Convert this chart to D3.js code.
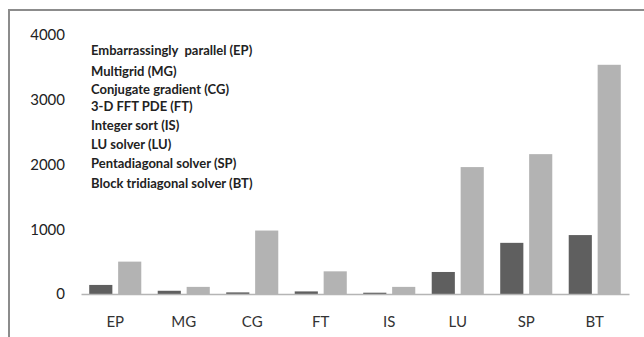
<!DOCTYPE html>
<html><head><meta charset="utf-8">
<script src="https://cdn.jsdelivr.net/npm/d3@7/dist/d3.min.js"></script>
<style>html,body{margin:0;padding:0;background:#fff;}svg{display:block;}</style>
</head><body>
<script>
const categories = ["EP","MG","CG","FT","IS","LU","SP","BT"];
const seriesDark = [140, 50, 25, 40, 20, 340, 790, 910];
const seriesLight = [500, 110, 980, 350, 110, 1960, 2160, 3540];
const yTicks = [0, 1000, 2000, 3000, 4000];
const legendLines = [
  "Embarrassingly  parallel (EP)",
  "Multigrid (MG)",
  "Conjugate gradient (CG)",
  "3-D FFT PDE (FT)",
  "Integer sort (IS)",
  "LU solver (LU)",
  "Pentadiagonal solver (SP)",
  "Block tridiagonal solver (BT)"
];
const legendY = [50, 71, 89, 106, 125, 144, 163, 183];

const W = 644, H = 337;
const svg = d3.select("body").append("svg").attr("width", W).attr("height", H);

// frame border
svg.append("rect").attr("x", 9).attr("y", 10).attr("width", W + 20).attr("height", H + 20)
  .attr("fill", "none").attr("stroke", "#8c8c8c").attr("stroke-width", 2);

const x = d3.scaleBand().domain(categories).range([81, 629]).paddingInner(0.24).paddingOuter(0.12);
const xs = d3.scaleBand().domain(["dark","light"]).range([0, x.bandwidth()]).paddingInner(0.2);
const y = d3.scaleLinear().domain([0, 4000]).range([294, 35]);

// y labels
svg.append("g").selectAll("text").data(yTicks).join("text")
  .attr("x", 65).attr("y", d => y(d)).attr("dy", "0.36em")
  .attr("text-anchor", "end").attr("font-family", "Lato").attr("font-size", 15)
  .attr("fill", "#222").text(d => d);

// bars
const data = categories.map((c, i) => ({c, dark: seriesDark[i], light: seriesLight[i]}));
const g = svg.append("g");
g.selectAll("rect.d").data(data).join("rect").attr("class","d")
  .attr("x", d => x(d.c) + xs("dark")).attr("width", xs.bandwidth())
  .attr("y", d => y(d.dark)).attr("height", d => y(0) - y(d.dark)).attr("fill", "#5f5f5f");
g.selectAll("rect.l").data(data).join("rect").attr("class","l")
  .attr("x", d => x(d.c) + xs("light")).attr("width", xs.bandwidth())
  .attr("y", d => y(d.light)).attr("height", d => y(0) - y(d.light)).attr("fill", "#b3b3b3");

// x axis
const xAxis = d3.axisBottom(x).tickSize(0).tickPadding(0);
const ax = svg.append("g").attr("transform", `translate(0,${y(0)})`).call(xAxis);
ax.select(".domain").attr("stroke", "#b5b5b5").attr("stroke-width", 1.5);
ax.selectAll("text").attr("y", 33).attr("dy", 0).attr("font-family", "Lato").attr("font-size", 15)
  .attr("fill", "#333");

// legend text block
svg.append("g").selectAll("text").data(legendLines).join("text")
  .attr("x", 91).attr("y", (d, i) => legendY[i]).attr("dy", "0.35em")
  .attr("font-family", "Lato").attr("font-weight", "bold").attr("font-size", 13)
  .attr("fill", "#222").style("white-space", "pre").text(d => d);
</script>
</body></html>
